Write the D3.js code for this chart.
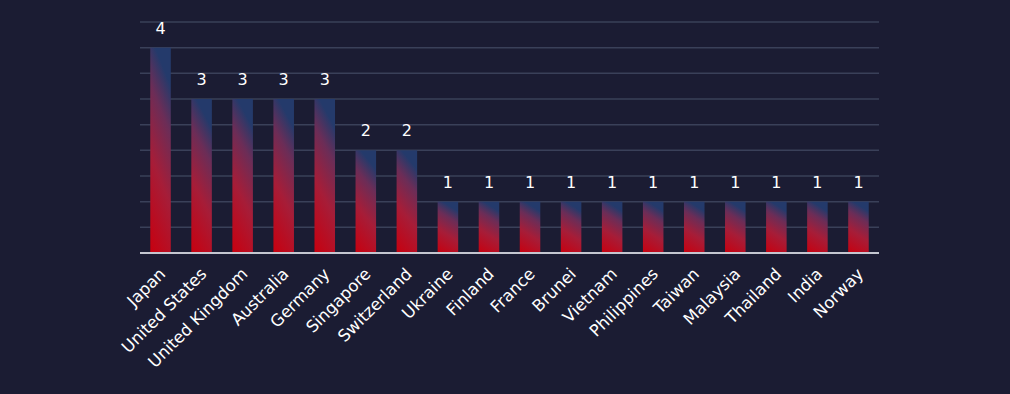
<!DOCTYPE html>
<html>
<head>
<meta charset="utf-8">
<script src="https://cdn.jsdelivr.net/npm/d3@7"></script>
<style>
  body { margin: 0; background: #1b1c33; }
  #chart { width: 1010px; height: 394px; }
  .label { font-family: "DejaVu Sans", sans-serif; fill: #ffffff; }
</style>
</head>
<body>
<div id="chart"></div>
<script>
const countries = ["Japan", "United States", "United Kingdom", "Australia", "Germany",
    "Singapore", "Switzerland", "Ukraine", "Finland", "France", "Brunei", "Vietnam",
    "Philippines", "Taiwan", "Malaysia", "Thailand", "India", "Norway"];
const counts = [4, 3, 3, 3, 3, 2, 2, 1, 1, 1, 1, 1, 1, 1, 1, 1, 1, 1];
const gridValues = [0.5, 1, 1.5, 2, 2.5, 3, 3.5, 4, 4.5];

const data = countries.map(function(c, i) { return {country: c, count: counts[i]}; });

const width = 1010;
const height = 394;
const margin = {top: 22, left: 140, right: 131, bottom: 141};

const svg = d3.select("#chart")
    .append("svg")
    .attr("width", width)
    .attr("height", height);

svg.append("rect")
    .attr("width", width)
    .attr("height", height)
    .attr("fill", "#1b1c33");

// bar gradient: red at bottom, navy at top-right
const grad = svg.append("defs").append("linearGradient")
    .attr("id", "barGrad")
    .attr("x1", 0).attr("y1", 1)
    .attr("x2", 0.25).attr("y2", 0);
grad.append("stop").attr("offset", "0%").attr("stop-color", "#c8000f");
grad.append("stop").attr("offset", "45%").attr("stop-color", "#a61d38");
grad.append("stop").attr("offset", "78%").attr("stop-color", "#6b2d57");
grad.append("stop").attr("offset", "100%").attr("stop-color", "#243a6b");

const xScale = d3.scaleBand()
    .domain(countries)
    .range([margin.left, width - margin.right])
    .paddingInner(0.5)
    .paddingOuter(0.25);

const yScale = d3.scaleLinear()
    .domain([0, 4.5])
    .range([height - margin.bottom, margin.top]);

/* gridlines */
svg.append("g")
    .selectAll("line")
    .data(gridValues)
    .enter()
    .append("line")
        .attr("x1", margin.left)
        .attr("x2", width - margin.right)
        .attr("y1", function(d) { return yScale(d); })
        .attr("y2", function(d) { return yScale(d); })
        .attr("stroke", "#3a4059")
        .attr("stroke-width", 1.5);

/* bars */
svg.append("g")
    .selectAll("rect")
    .data(data)
    .enter()
    .append("rect")
        .attr("x", function(d) { return xScale(d.country); })
        .attr("y", function(d) { return yScale(d.count); })
        .attr("width", xScale.bandwidth())
        .attr("height", function(d) { return yScale(0) - yScale(d.count); })
        .attr("fill", "url(#barGrad)");

/* x axis */
const xAxis = svg.append("g")
    .attr("transform", `translate(0,${yScale(0)})`)
    .call(d3.axisBottom(xScale).tickSize(0).tickPadding(0));

xAxis.select(".domain")
    .attr("stroke", "#c4c6d0")
    .attr("stroke-width", 2)
    .attr("d", `M${margin.left},0H${width - margin.right}`);

xAxis.selectAll("text")
    .attr("class", "label")
    .attr("font-size", 16.5)
    .attr("text-anchor", "end")
    .attr("dy", 0)
    .attr("transform", "translate(6,22) rotate(-45)");

/* value labels */
svg.append("g")
    .selectAll("text")
    .data(data)
    .enter()
    .append("text")
        .attr("class", "label")
        .attr("x", function(d) { return xScale(d.country) + xScale.bandwidth() / 2; })
        .attr("y", function(d) { return yScale(d.count) - 14; })
        .attr("text-anchor", "middle")
        .attr("font-size", 16)
        .text(function(d) { return d.count; });
</script>
</body>
</html>
